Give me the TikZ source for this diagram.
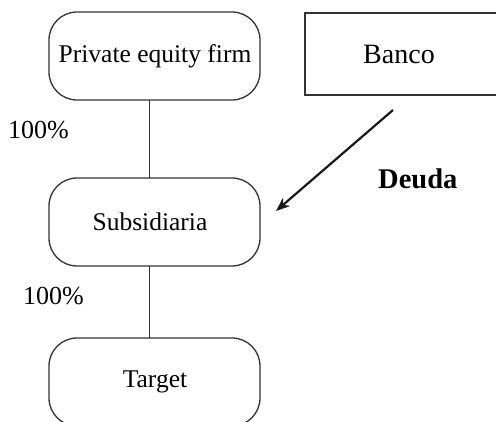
\documentclass[tikz,border=0pt]{standalone}
\usepackage{fontspec}
\setmainfont{Liberation Serif}
\usetikzlibrary{arrows.meta}
\begin{document}
\begin{tikzpicture}[x=1pt,y=-1pt,
  every node/.style={font=\fontsize{25.5}{30}\selectfont},
  roundbox/.style={draw=black!80,line width=1.3pt,rounded corners=28pt,minimum width=211pt,minimum height=88pt,inner sep=0pt},
  squarebox/.style={draw=black!80,line width=1.3pt,minimum width=194pt,minimum height=82pt,inner sep=0pt},
  link/.style={draw=black!80,line width=1.3pt},
  arr/.style={draw=black!90,line width=2.2pt,-{Stealth[length=14pt,width=11pt]}},
  lbl/.style={inner sep=0pt,anchor=base west}]
\useasboundingbox (0,0) rectangle (496,422);
\clip (0,0) rectangle (496,422);
\node[roundbox] (pe) at (154.5,56) {};
\node at (155,56) {Private equity firm};
\node[squarebox] (banco) at (402,54) {};
\node[font=\fontsize{28}{32}\selectfont] at (399,54) {Banco};
\node[roundbox] (sub) at (154.5,222) {};
\node at (150,222) {Subsidiaria};
\node[roundbox] (tgt) at (154.5,382) {};
\node at (155,382) {Target};
\draw[link] (149.5,100) -- (149.5,178);
\draw[link] (149.5,266) -- (149.5,338);
\coordinate (a0) at (393,110);
\coordinate (a1) at (276,211);
\draw[arr] (a0) -- (a1);
\node[lbl,font=\fontsize{26}{30}\selectfont] (p1) at (8,139) {100\%};
\node[lbl,font=\fontsize{26}{30}\selectfont] (p2) at (23,305) {100\%};
\node[lbl,font=\fontsize{28.5}{32}\bfseries] (deuda) at (378,189) {Deuda};
\end{tikzpicture}
\end{document}
